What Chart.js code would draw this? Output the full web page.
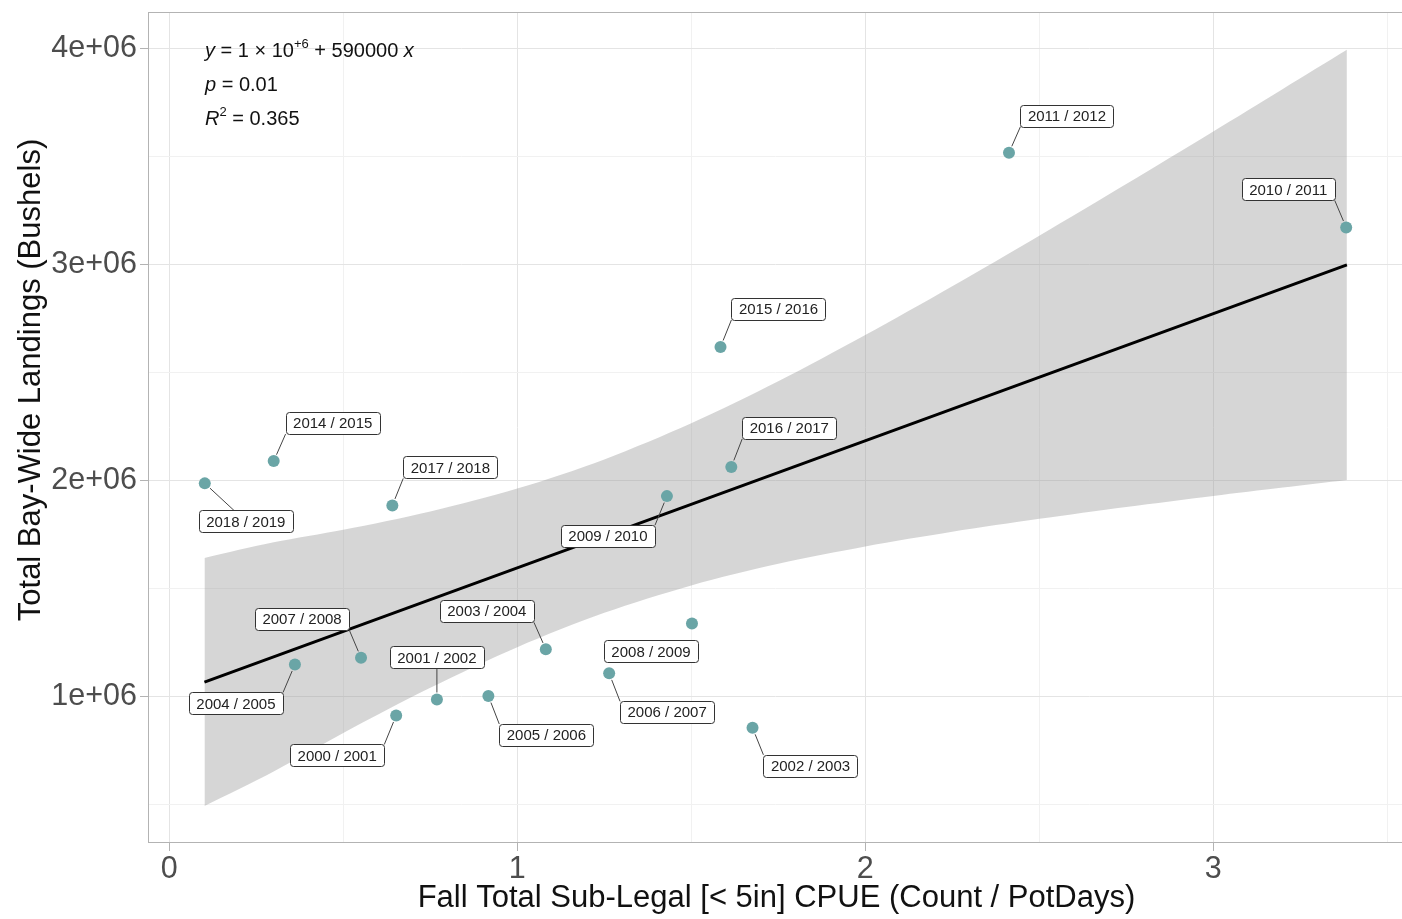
<!DOCTYPE html>
<html>
<head>
<meta charset="utf-8">
<script src="https://cdn.jsdelivr.net/npm/chart.js@4.4.1/dist/chart.umd.min.js"></script>
<style>
  html, body { margin: 0; padding: 0; background: #fff; }
  #wrap { width: 1402px; height: 919px; }
</style>
</head>
<body>
<div id="wrap"><canvas id="landings" width="1402" height="919"></canvas></div>
<script>
// seasons and values
const seasons = ['2000 / 2001', '2001 / 2002', '2002 / 2003', '2003 / 2004', '2004 / 2005',
  '2005 / 2006', '2006 / 2007', '2007 / 2008', '2008 / 2009', '2009 / 2010', '2010 / 2011',
  '2011 / 2012', '2014 / 2015', '2015 / 2016', '2016 / 2017', '2017 / 2018', '2018 / 2019'];
const cpue = [0.652, 0.769, 1.676, 1.082, 0.361, 0.917, 1.264, 0.551, 1.502, 1.430, 3.382,
  2.413, 0.300, 1.584, 1.615, 0.641, 0.102];
const landings = [914000, 988000, 857000, 1220000, 1150000, 1004000, 1109000, 1181000, 1340000,
  1929000, 3172000, 3518000, 2091000, 2619000, 2064000, 1886000, 1988000];

// fitted line and its confidence band
const fitX = [0.101, 3.384];
const fitY = [1068000, 2999000];
const bandX = [0.101, 0.3, 0.5, 0.75, 1.0, 1.25, 1.5, 1.75, 2.0, 2.25, 2.5, 2.75, 3.0, 3.2, 3.384];
const bandUpper = [1643000, 1715000, 1773000, 1858000, 1964000, 2099000, 2266000, 2460000,
  2674000, 2900000, 3134000, 3373000, 3616000, 3813000, 3994000];
const bandLower = [495000, 655000, 833000, 1042000, 1230000, 1389000, 1516000, 1616000,
  1696000, 1764000, 1824000, 1879000, 1930000, 1969000, 2004000];

const xTicks = [0, 0.5, 1, 1.5, 2, 2.5, 3, 3.5];
const xTickLabels = ['0', '', '1', '', '2', '', '3', ''];
const yTicks = [500000, 1000000, 1500000, 2000000, 2500000, 3000000, 3500000, 4000000];
const yTickLabels = ['', '1e+06', '', '2e+06', '', '3e+06', '', '4e+06'];

// where each repelled label box sits relative to its point (px)
const labelOffsets = [[-59, 40], [0, -42], [58, 38], [-59, -38], [-59, 39], [58, 39], [58, 39],
  [-59, -39], [-41, 28], [-59, 40], [-58, -38], [58, -37], [59, -38], [58, -38], [58, -39],
  [58, -38], [41, 38]];

const FONT = '"Liberation Sans", Arial, Helvetica, sans-serif';
const PANEL_RIGHT = 1405; // the panel runs past the right edge of the picture

const widenPanel = {
  id: 'widenPanel',
  afterLayout(chart) {
    const a = chart.chartArea;
    const extra = PANEL_RIGHT - a.right;
    a.right += extra;
    a.width += extra;
    const x = chart.scales.x;
    x.right += extra;
    x.width += extra;
    x.configure();
  }
};

const pointLabels = {
  id: 'pointLabels',
  afterDatasetsDraw(chart) {
    const ctx = chart.ctx;
    const pts = chart.getDatasetMeta(0).data;
    ctx.save();
    ctx.font = '15px ' + FONT;
    pts.forEach((p, i) => {
      const w = ctx.measureText(seasons[i]).width + 15;
      const h = 22;
      const cx = p.x + labelOffsets[i][0];
      const cy = p.y + labelOffsets[i][1];
      const l = cx - w / 2, t = cy - h / 2;
      // segment from point to nearest spot of the box
      let nx = Math.min(Math.max(p.x, l), l + w);
      let ny = Math.min(Math.max(p.y, t), t + h);
      const gap = Math.hypot(nx - p.x, ny - p.y);
      if (p.x > l && p.x < l + w) {
        // point sits under/over the box: aim at the box edge along the line to its centre
        const k = (ny - p.y) / (cy - p.y);
        nx = p.x + (cx - p.x) * k;
      }
      const d = Math.hypot(nx - p.x, ny - p.y);
      if (gap > 20) {
        const sx = p.x + (nx - p.x) * 7 / d;
        const sy = p.y + (ny - p.y) * 7 / d;
        ctx.strokeStyle = '#444';
        ctx.lineWidth = 1;
        ctx.beginPath();
        ctx.moveTo(sx, sy);
        ctx.lineTo(nx, ny);
        ctx.stroke();
      }
      ctx.fillStyle = '#fff';
      ctx.strokeStyle = '#333';
      ctx.lineWidth = 1;
      ctx.beginPath();
      ctx.roundRect(Math.round(l) + 0.5, Math.round(t) + 0.5, Math.round(w), h, 3);
      ctx.fill();
      ctx.stroke();
      ctx.fillStyle = '#222';
      ctx.textAlign = 'center';
      ctx.textBaseline = 'middle';
      ctx.fillText(seasons[i], cx, cy + 1);
    });
    ctx.restore();
  }
};

const panelDecor = {
  id: 'panelDecor',
  afterDraw(chart) {
    const ctx = chart.ctx;
    const a = chart.chartArea;
    ctx.save();
    ctx.strokeStyle = '#b3b3b3';
    ctx.lineWidth = 1;
    ctx.strokeRect(a.left + 0.5, a.top + 0.5, a.right - a.left - 1, a.bottom - a.top - 1);

    // y axis title
    ctx.fillStyle = '#111';
    ctx.font = '31px ' + FONT;
    ctx.textAlign = 'center';
    ctx.textBaseline = 'middle';
    ctx.translate(31, 380);
    ctx.rotate(-Math.PI / 2);
    ctx.fillText('Total Bay-Wide Landings (Bushels)', 0, 0);
    ctx.restore();

    // regression annotation
    ctx.save();
    ctx.fillStyle = '#111';
    ctx.textBaseline = 'alphabetic';
    let x = a.left + 57;
    const put = (txt, style, y) => {
      ctx.font = style;
      ctx.fillText(txt, x, y);
      x += ctx.measureText(txt).width;
    };
    const reg = '20px ' + FONT, ita = 'italic 20px ' + FONT, sup = '13px ' + FONT;
    let y0 = 57;
    put('y', ita, y0); put(' = 1 \u00d7 10', reg, y0); put('+6', sup, y0 - 9);
    put(' + 590000 ', reg, y0); put('x', ita, y0);
    x = a.left + 57; y0 = 91;
    put('p', ita, y0); put(' = 0.01', reg, y0);
    x = a.left + 57; y0 = 125;
    put('R', ita, y0); put('2', sup, y0 - 9); put(' = 0.365', reg, y0);
    ctx.restore();
  }
};

const majorX = v => Number.isInteger(v);
const majorY = v => v % 1000000 === 0;

new Chart(document.getElementById('landings').getContext('2d'), {
  type: 'scatter',
  data: {
    datasets: [
      {
        label: 'Landings',
        data: cpue.map((v, i) => ({ x: v, y: landings[i] })),
        backgroundColor: '#6aa5a6',
        borderWidth: 0,
        pointRadius: 6,
        order: 0
      },
      {
        label: 'Fit',
        type: 'line',
        data: fitX.map((v, i) => ({ x: v, y: fitY[i] })),
        borderColor: '#000',
        borderWidth: 3,
        pointRadius: 0,
        fill: false,
        order: 1
      },
      {
        label: 'Upper',
        type: 'line',
        data: bandX.map((v, i) => ({ x: v, y: bandUpper[i] })),
        borderWidth: 0,
        pointRadius: 0,
        tension: 0.3,
        backgroundColor: 'rgba(153,153,153,0.4)',
        fill: '+1',
        order: 2
      },
      {
        label: 'Lower',
        type: 'line',
        data: bandX.map((v, i) => ({ x: v, y: bandLower[i] })),
        borderWidth: 0,
        pointRadius: 0,
        tension: 0.3,
        fill: false,
        order: 3
      }
    ]
  },
  options: {
    responsive: false,
    animation: false,
    devicePixelRatio: 1,
    layout: { padding: { top: 12, right: 0, left: 0, bottom: 0 } },
    plugins: { legend: { display: false }, tooltip: { enabled: false } },
    scales: {
      x: {
        type: 'linear',
        min: -0.0612,
        max: 3.551,
        afterBuildTicks: s => { s.ticks = xTicks.map(v => ({ value: v })); },
        afterFit: s => { s.height = 76; s.paddingLeft = 0; s.paddingRight = 0; },
        ticks: {
          autoSkip: false,
          maxRotation: 0,
          padding: 0,
          color: '#4d4d4d',
          font: { family: FONT, size: 30.5 },
          callback: (v, i) => xTickLabels[i]
        },
        grid: {
          color: c => majorX(c.tick.value) ? '#e4e4e4' : '#f1f1f1',
          tickColor: c => majorX(c.tick.value) ? '#b3b3b3' : 'rgba(0,0,0,0)',
          tickLength: 8,
          lineWidth: 1
        },
        border: { display: false },
        title: {
          display: true,
          text: 'Fall Total Sub-Legal [< 5in] CPUE (Count / PotDays)',
          color: '#111',
          font: { family: FONT, size: 31 },
          padding: { top: 0, bottom: 2 }
        }
      },
      y: {
        type: 'linear',
        min: 324000,
        max: 4169000,
        afterBuildTicks: s => { s.ticks = yTicks.map(v => ({ value: v })); },
        afterFit: s => { s.width = 148; s.paddingTop = 0; s.paddingBottom = 0; },
        ticks: {
          autoSkip: false,
          padding: 3,
          color: '#4d4d4d',
          font: { family: FONT, size: 30.5 },
          callback: (v, i) => yTickLabels[i]
        },
        grid: {
          color: c => majorY(c.tick.value) ? '#e4e4e4' : '#f1f1f1',
          tickColor: c => majorY(c.tick.value) ? '#b3b3b3' : 'rgba(0,0,0,0)',
          tickLength: 8,
          lineWidth: 1
        },
        border: { display: false }
      }
    }
  },
  plugins: [widenPanel, pointLabels, panelDecor]
});
</script>
</body>
</html>
